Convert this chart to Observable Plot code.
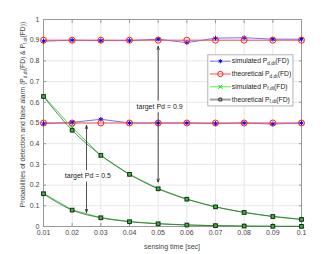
<!DOCTYPE html>
<html><head><meta charset="utf-8">
<script src="https://cdn.jsdelivr.net/npm/d3@7"></script>
<script src="https://cdn.jsdelivr.net/npm/@observablehq/plot@0.6"></script>
<style>
html,body{margin:0;padding:0;background:#fff;}
#chart{width:332px;height:254px;}
svg{font-family:"Liberation Sans",Arial,sans-serif;}
</style></head>
<body><div id="chart"></div>
<script>
const time = [0.01,0.02,0.03,0.04,0.05,0.06,0.07,0.08,0.09,0.1];
const simPd90 = [0.895,0.900,0.898,0.898,0.905,0.888,0.910,0.912,0.905,0.905];
const thPd90  = [0.9,0.9,0.9,0.9,0.9,0.9,0.9,0.9,0.9,0.9];
const simPd50 = [0.497,0.503,0.518,0.500,0.500,0.500,0.497,0.500,0.495,0.500];
const thPd50  = [0.5,0.5,0.5,0.5,0.5,0.5,0.5,0.5,0.5,0.5];
const simPf50 = [0.630,0.478,0.343,0.252,0.183,0.132,0.094,0.068,0.049,0.035];
const thPf50  = [0.628,0.465,0.344,0.252,0.182,0.132,0.095,0.068,0.048,0.034];
const simPf90 = [0.160,0.080,0.043,0.024,0.014,0.008,0.004,0.002,0.001,0.001];
const thPf90  = [0.158,0.079,0.042,0.023,0.013,0.007,0.004,0.002,0.001,0.0005];
const yTicks = [0,0.1,0.2,0.3,0.4,0.5,0.6,0.7,0.8,0.9,1];
const xTicks = time;

const annoTexts = [
  {x:0.0505, y:0.58, label:"target Pd = 0.9"},
  {x:0.0255, y:0.246, label:"target Pd = 0.5"}
];
const annoArrows = [
  {x:0.05, y1:0.61, y2:0.87},
  {x:0.05, y1:0.55, y2:0.215},
  {x:0.025, y1:0.275, y2:0.488},
  {x:0.025, y1:0.215, y2:0.068}
];

const legendItems = [
  {label:"simulated P", sub:"d,dt", stroke:"#7070ff", sw:1, symbol:"asterisk", mstroke:"#0000ff"},
  {label:"theoretical P", sub:"d,dt", stroke:"#ff5050", sw:1, symbol:"circle", mstroke:"#ff2020"},
  {label:"simulated P", sub:"f,dt", stroke:"#40ff40", sw:1, symbol:"times", mstroke:"#20c020"},
  {label:"theoretical P", sub:"f,dt", stroke:"#a0a0a0", sw:2, symbol:"square", mstroke:"#202020"}
];
const yLabelParts = [["Probabilities of detection and false alarm (P",""],["d,dt","sub"],["(FD) & P",""],["f,dt","sub"],["(FD))",""]];
const xLabel = "sensing time [sec]";

const mk = (arr) => time.map((t,i)=>({t, v:arr[i]}));
const blueC = "#7070ff", redC = "#ff5050", greenC = "#3ddc3d", darkC = "#3a4a3a";
const blank = () => "";

const marks = [
  Plot.gridX(xTicks, {stroke:"#e6e6e6", strokeOpacity:1}),
  Plot.gridY(yTicks, {stroke:"#e6e6e6", strokeOpacity:1}),
  Plot.axisX(xTicks, {anchor:"bottom", tickSize:-3, tickPadding:7, fontSize:7, fill:"#444", stroke:"#999", tickFormat:d=>String(+d.toFixed(2)), label:null}),
  Plot.axisX(xTicks, {anchor:"top", tickSize:-3, tickFormat:blank, stroke:"#999", label:null}),
  Plot.axisY(yTicks, {anchor:"left", tickSize:-3, tickPadding:7, fontSize:7, fill:"#444", stroke:"#999", tickFormat:d=>String(+d.toFixed(1)), label:null}),
  Plot.axisY(yTicks, {anchor:"right", tickSize:-3, tickFormat:blank, stroke:"#999", label:null}),
  Plot.frame({stroke:"#999"}),
];
const series = [
  {d:mk(simPd90), stroke:blueC, sym:"asterisk", ms:"#0000ff", fill:"none", r:2.2},
  {d:mk(simPd50), stroke:blueC, sym:"asterisk", ms:"#0000ff", fill:"none", r:2.2},
  {d:mk(thPd90), stroke:redC, sym:"circle", ms:"#ff2020", fill:"none", r:3},
  {d:mk(thPd50), stroke:redC, sym:"circle", ms:"#ff2020", fill:"none", r:3},
  {d:mk(simPf50), stroke:greenC, sym:"times", ms:"#20c020", fill:"none", r:2.2},
  {d:mk(simPf90), stroke:greenC, sym:"times", ms:"#20c020", fill:"none", r:2.2},
  {d:mk(thPf50), stroke:darkC, sym:"square", ms:"#202020", fill:"#30c030", r:2.1, curve:"monotone-x", sw:0.7},
  {d:mk(thPf90), stroke:darkC, sym:"square", ms:"#202020", fill:"#30c030", r:2.1, curve:"monotone-x", sw:0.7},
];
for (const s of series) marks.push(Plot.line(s.d, {x:"t", y:"v", stroke:s.stroke, strokeWidth:s.sw||1, curve:s.curve||"linear"}));
for (const s of series) marks.push(Plot.dot(s.d, {x:"t", y:"v", symbol:()=>s.sym, stroke:s.ms, fill:s.fill, r:s.r, strokeWidth:1}));
marks.push(Plot.arrow(annoArrows, {x1:"x", x2:"x", y1:"y1", y2:"y2", stroke:"#222", strokeWidth:0.8, headLength:6, headAngle:40}));
marks.push(Plot.text(annoTexts, {x:"x", y:"y", text:"label", fontSize:7, fill:"#222"}));

const plot = Plot.plot({
  width:332, height:254,
  marginLeft:43, marginRight:31, marginTop:19, marginBottom:28,
  x:{domain:[0.01,0.1]},
  y:{domain:[0,1]},
  symbol:{type:"identity"},
  style:{fontFamily:"'Liberation Sans', Arial, sans-serif", background:"#fff"},
  marks
});
document.getElementById("chart").appendChild(plot);

const sx = plot.scale("x"), sy = plot.scale("y");
const svg = d3.select(plot);
svg.append("text").attr("x", (sx.apply(0.01)+sx.apply(0.1))/2).attr("y", 249).attr("text-anchor","middle")
  .attr("font-size",7).attr("fill","#444").text(xLabel);
const yl = svg.append("text").attr("transform",`translate(25,${(sy.apply(0)+sy.apply(1))/2 - 8}) rotate(-90)`)
  .attr("text-anchor","middle").attr("font-size",6.7).attr("fill","#444");
yLabelParts.forEach(([txt,kind])=>{
  const ts = yl.append("tspan").text(txt);
  if (kind==="sub") ts.attr("font-size",4.8).attr("dy","1.5");
  else if (txt.startsWith("(FD")) ts.attr("dy","-1.5");
});

const lx0 = sx.apply(0.0675), lx1 = sx.apply(0.0972), ly0 = sy.apply(0.827), ly1 = sy.apply(0.58);
const g = svg.append("g").attr("text-anchor","start");
g.append("rect").attr("x",lx0).attr("y",ly0).attr("width",lx1-lx0).attr("height",ly1-ly0)
  .attr("fill","#fff").attr("stroke","#a0a0a0").attr("stroke-width",0.8);
const rowH = (ly1-ly0)/4;
const symG = {asterisk:d3.symbolAsterisk, circle:d3.symbolCircle, times:d3.symbolTimes, square:d3.symbolSquare};
legendItems.forEach((it,i)=>{
  const cy = ly0 + rowH*(i+0.5);
  g.append("line").attr("x1",lx0+2).attr("x2",lx0+23).attr("y1",cy).attr("y2",cy)
    .attr("stroke",it.stroke).attr("stroke-width",it.sw);
  const size = it.symbol==="circle" ? Math.PI*7 : (it.symbol==="square"? 8 : 12);
  g.append("path").attr("d", d3.symbol(symG[it.symbol], size)()).attr("transform",`translate(${lx0+12.5},${cy})`)
    .attr("fill", it.symbol==="square" ? "#ccc" : "none").attr("stroke",it.mstroke).attr("stroke-width",1);
  const t = g.append("text").attr("x",lx0+24).attr("y",cy).attr("dy","0.3em").attr("font-size",6.8).attr("fill","#222").attr("text-anchor","start");
  t.append("tspan").text(it.label);
  t.append("tspan").attr("font-size",4.8).attr("dy","1.5").text(it.sub);
  t.append("tspan").attr("dy","-1.5").text("(FD)");
});
</script>
</body></html>
